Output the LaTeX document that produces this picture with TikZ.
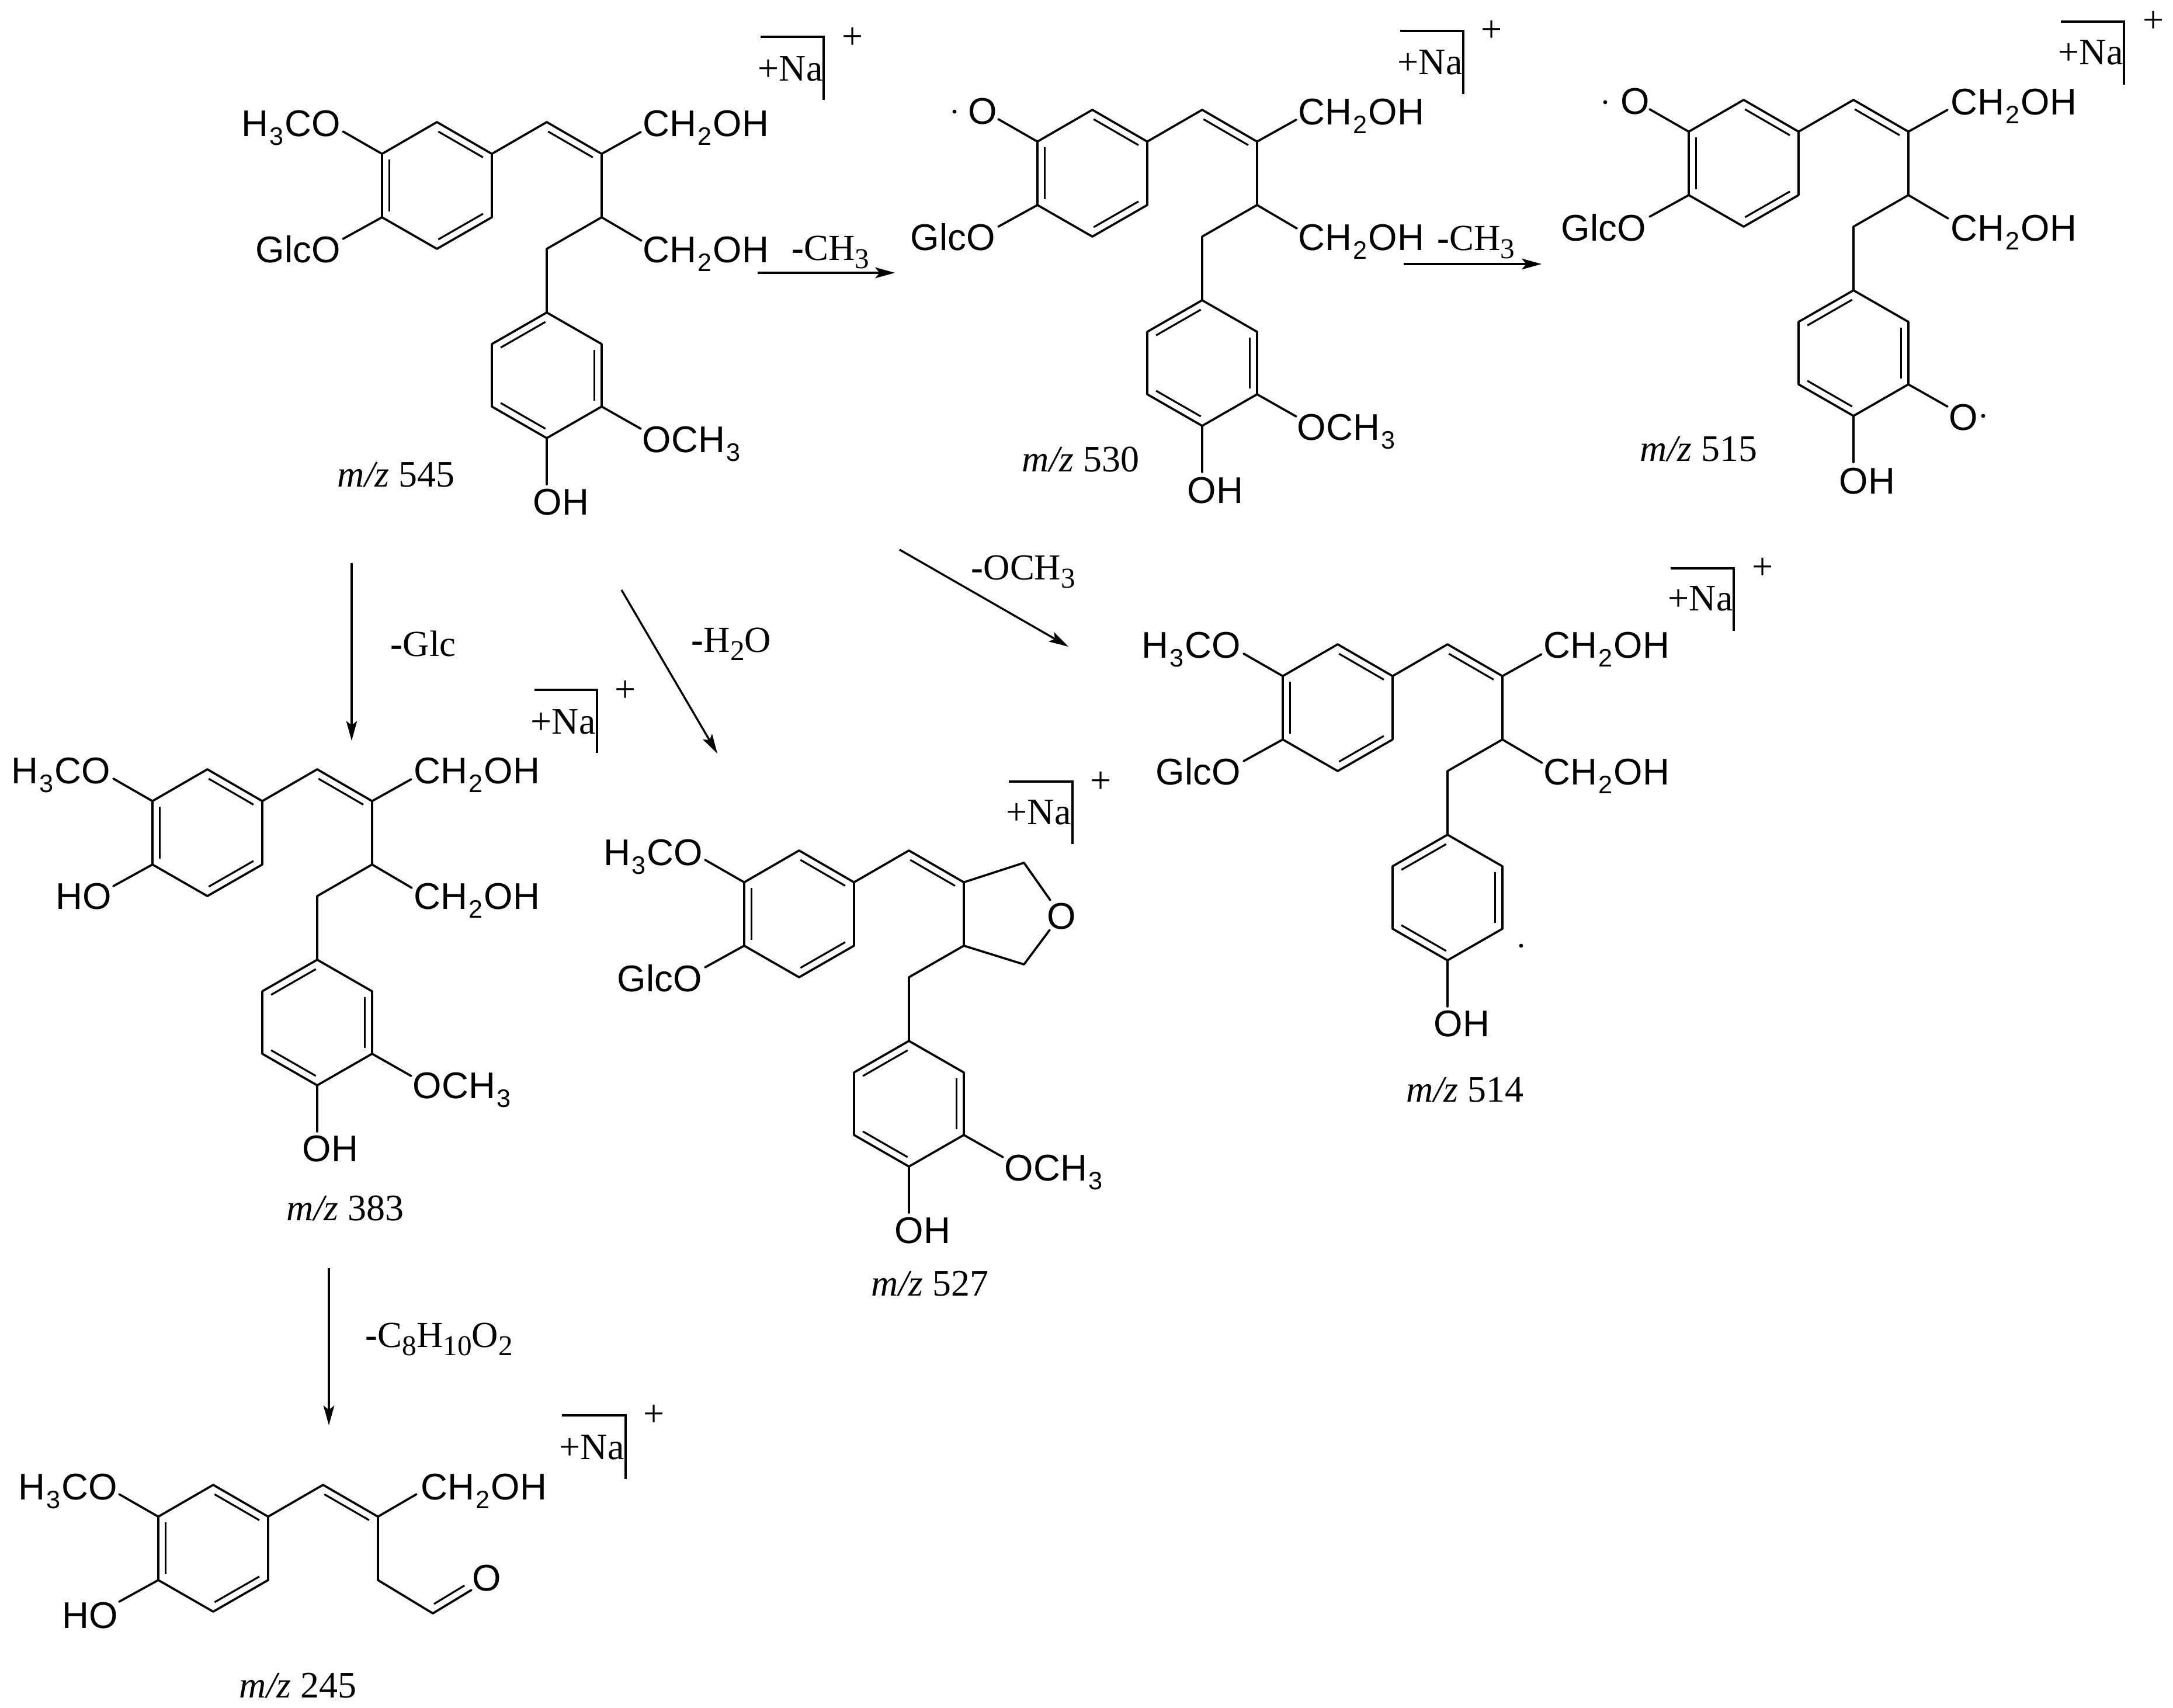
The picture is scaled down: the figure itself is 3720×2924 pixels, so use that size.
\documentclass[tikz,border=0pt]{standalone}
\usepackage{fontspec}
\setmainfont{Liberation Serif}
\newfontfamily\libsans{Liberation Sans}
\usetikzlibrary{calc,arrows.meta}
\tikzset{
  bond/.style={line width=0.92pt,line cap=round,line join=round,black},
  inner bond/.style={line width=0.8pt,line cap=butt,black},
  rxn/.style={line width=0.85pt,black,-{Stealth[length=8.4pt,width=4.6pt,inset=1.8pt]}},
  brk/.style={line width=0.95pt,black,line join=miter},
  atom/.style={font=\fontsize{15.9}{18}\libsans,inner sep=0pt,anchor=base west},
  serif/.style={font=\fontsize{16}{18}\selectfont,inner sep=0pt,anchor=base west},
  lab/.style={font=\fontsize{15.7}{18}\selectfont,inner sep=0pt,anchor=base west},
  chg/.style={font=\fontsize{16}{18}\selectfont,inner sep=0pt,anchor=center},
  radical/.style={fill=black}
}
\newcommand{\lsub}[1]{\kern.5pt\raisebox{-3.9pt}{\fontsize{10.8}{12}\selectfont #1}\kern.5pt}
\newcommand{\ssub}[1]{\raisebox{-3.7pt}{\fontsize{12.3}{14}\selectfont #1}}
\newcommand{\dbl}[2]{\draw[inner bond] ($(#1)!2.5pt!(#2)!3.2pt!90:(#2)$) -- ($(#2)!2.5pt!(#1)!-3.2pt!90:(#1)$);}
\newcommand{\topskel}[3]{%
  \begin{scope}[shift={(#2,#3)}]
    \coordinate (#1T) at (0,0);
    \coordinate (#1UR) at (94,54.4);
    \coordinate (#1LR) at (94,163);
    \coordinate (#1B) at (0,217);
    \coordinate (#1LL) at (-94,163);
    \coordinate (#1UL) at (-94,54.4);
    \coordinate (#1V) at (188,0);
    \coordinate (#1Ca) at (282,54.4);
    \coordinate (#1Cb) at (282,163);
    \coordinate (#1eO) at (-161,16);
    \coordinate (#1eP) at (-161,200);
  \end{scope}
  \draw[bond] (#1T)--(#1UR)--(#1LR)--(#1B)--(#1LL)--(#1UL)--cycle;
  \draw[bond] (#1UR)--(#1V)--(#1Ca)--(#1Cb);
  \draw[bond] (#1UL)--(#1eO);
  \draw[bond] (#1LL)--(#1eP);
  \dbl{#1UL}{#1LL}\dbl{#1B}{#1LR}\dbl{#1UR}{#1T}\dbl{#1Ca}{#1V}
}
\newcommand{\arms}[3]{%
  \begin{scope}[shift={(#2,#3)}]
    \coordinate (#1eA) at (349,17);
    \coordinate (#1eC) at (350,203);
  \end{scope}
  \draw[bond] (#1Ca)--(#1eA);
  \draw[bond] (#1Cb)--(#1eC);
}
\newcommand{\lowring}[3]{%
  \begin{scope}[shift={(#2,#3)}]
    \coordinate (#1c) at (188,217);
    \coordinate (#1t) at (188,326);
    \coordinate (#1ur) at (282,380);
    \coordinate (#1lr) at (282,487);
    \coordinate (#1b) at (188,541);
    \coordinate (#1ll) at (94,487);
    \coordinate (#1ul) at (94,380);
    \coordinate (#1eH) at (188,620);
    \coordinate (#1eM) at (349,525);
  \end{scope}
  \draw[bond] (#1Cb)--(#1c)--(#1t);
  \draw[bond] (#1t)--(#1ur)--(#1lr)--(#1b)--(#1ll)--(#1ul)--cycle;
  \draw[bond] (#1b)--(#1eH);
  \dbl{#1t}{#1ul}\dbl{#1ll}{#1b}\dbl{#1lr}{#1ur}
}
\newcommand{\nabox}[9]{%
  \coordinate (#1p) at (#2,#4);
  \coordinate (#1q) at (#3,#4);
  \coordinate (#1r) at (#3,#5);
  \draw[brk] (#1p)--(#1q)--(#1r);
  \node[serif] (#1na) at (#6,#7) {+Na};
  \node[chg] (#1pl) at (#8,#9) {+};
}
\begin{document}
\begin{tikzpicture}[x=0.25pt,y=-0.25pt]
\path[fill=white] (0,0) rectangle (3720,2924);
\useasboundingbox (0,0) rectangle (3720,2924);

\topskel{a}{748}{209}\arms{a}{748}{209}\lowring{a}{748}{209}
\draw[bond] (alr)--(aeM);
\node[atom] (a1) at (413,233) {H\lsub{3}CO};
\node[atom] (a2) at (437,449) {GlcO};
\node[atom] (a3) at (1100,233) {CH\lsub{2}OH};
\node[atom] (a4) at (1100,449) {CH\lsub{2}OH};
\node[atom] (a5) at (1099,774) {OCH\lsub{3}};
\node[atom] (a6) at (912,881) {OH};
\node[serif] (a7) at (577,833) {\textit{m/z} 545};
\nabox{a}{1302}{1410}{63}{171}{1297}{138}{1460}{65}

\topskel{b}{1870}{188}\arms{b}{1870}{188}\lowring{b}{1870}{188}
\draw[bond] (blr)--(beM);
\node[atom] (b1) at (1657,212) {O};
\fill[radical] (1634,191) circle[radius=0.85pt];
\node[atom] (b2) at (1558,428) {GlcO};
\node[atom] (b3) at (2222,213) {CH\lsub{2}OH};
\node[atom] (b4) at (2222,428) {CH\lsub{2}OH};
\node[atom] (b5) at (2220,753) {OCH\lsub{3}};
\node[atom] (b6) at (2032,861) {OH};
\node[serif] (b7) at (1749,807) {\textit{m/z} 530};
\nabox{b}{2397}{2505}{53}{161}{2392}{127}{2554}{53}

\topskel{c}{2985}{171}\arms{c}{2985}{171}\lowring{c}{2985}{171}
\draw[bond] (clr)--(ceM);
\node[atom] (c1) at (2774,195) {O};
\fill[radical] (2748,175) circle[radius=0.85pt];
\node[atom] (c2) at (2672,412) {GlcO};
\node[atom] (c3) at (3339,196) {CH\lsub{2}OH};
\node[atom] (c4) at (3339,412) {CH\lsub{2}OH};
\node[atom] (c5) at (3336,736) {O};
\fill[radical] (3395,712) circle[radius=0.85pt];
\node[atom] (c6) at (3148,845) {OH};
\node[serif] (c7) at (2807,789) {\textit{m/z} 515};
\nabox{c}{3528}{3636}{37}{145}{3523}{110}{3687}{37}

\topskel{d}{355}{1317}\arms{d}{355}{1317}\lowring{d}{355}{1317}
\draw[bond] (dlr)--(deM);
\node[atom] (d1) at (19,1341) {H\lsub{3}CO};
\node[atom] (d2) at (95,1556) {HO};
\node[atom] (d3) at (708,1341) {CH\lsub{2}OH};
\node[atom] (d4) at (708,1556) {CH\lsub{2}OH};
\node[atom] (d5) at (706,1880) {OCH\lsub{3}};
\node[atom] (d6) at (517,1988) {OH};
\node[serif] (d7) at (490,2089) {\textit{m/z} 383};
\nabox{d}{915}{1022}{1181}{1289}{908}{1256}{1071}{1183}

\topskel{e}{1368}{1456}\lowring{e}{1368}{1456}
\draw[bond] (elr)--(eeM);
\coordinate (ef) at (1753,1477);
\coordinate (eg) at (1753,1651);
\coordinate (eo1) at (1798,1541);
\coordinate (eo2) at (1797,1592);
\draw[bond] (eCa)--(ef)--(eo1);
\draw[bond] (eCb)--(eg)--(eo2);
\node[atom] (e1) at (1033,1481) {H\lsub{3}CO};
\node[atom] (e2) at (1056,1697) {GlcO};
\node[atom] (e3) at (1792,1590) {O};
\node[atom] (e5) at (1719,2021) {OCH\lsub{3}};
\node[atom] (e6) at (1531,2128) {OH};
\node[serif] (e7) at (1491,2218) {\textit{m/z} 527};
\nabox{e}{1727}{1836}{1338}{1445}{1722}{1411}{1885}{1339}

\topskel{f}{2290}{1103}\arms{f}{2290}{1103}\lowring{f}{2290}{1103}
\node[atom] (f1) at (1954,1126) {H\lsub{3}CO};
\node[atom] (f2) at (1978,1343) {GlcO};
\node[atom] (f3) at (2642,1126) {CH\lsub{2}OH};
\node[atom] (f4) at (2642,1343) {CH\lsub{2}OH};
\node[atom] (f6) at (2454,1774) {OH};
\fill[radical] (2604,1619) circle[radius=0.85pt];
\node[serif] (f7) at (2407,1886) {\textit{m/z} 514};
\nabox{f}{2860}{2968}{973}{1080}{2855}{1045}{3018}{973}

\topskel{g}{365}{2542}
\coordinate (geA) at (713,2558);
\coordinate (gc) at (741,2762);
\coordinate (geK) at (807,2722);
\draw[bond] (gCa)--(geA);
\draw[bond] (gCb)--(gc)--(geK);
\draw[inner bond] ($(gc)!2.5pt!(geK)!3.2pt!90:(geK)$) -- ($(geK)!1.5pt!(gc)!-3.2pt!90:(gc)$);
\node[atom] (g1) at (31,2567) {H\lsub{3}CO};
\node[atom] (g2) at (106,2787) {HO};
\node[atom] (g3) at (720,2567) {CH\lsub{2}OH};
\node[atom] (g4) at (808,2723) {O};
\node[serif] (g7) at (409,2906) {\textit{m/z} 245};
\nabox{g}{962}{1071}{2423}{2532}{957}{2498}{1120}{2423}

\coordinate (r1s) at (1297,467); \coordinate (r1e) at (1532,467);
\draw[rxn] (r1s)--(r1e);
\node[lab] (l1) at (1355,445) {\textbf{-}CH\ssub{3}};
\coordinate (r2s) at (2403,452); \coordinate (r2e) at (2639,452);
\draw[rxn] (r2s)--(r2e);
\node[lab] (l2) at (2460,428) {\textbf{-}CH\ssub{3}};
\coordinate (r3s) at (602,964); \coordinate (r3e) at (602,1268);
\draw[rxn] (r3s)--(r3e);
\node[lab] (l3) at (668,1123) {\textbf{-}Glc};
\coordinate (r4s) at (1064,1010); \coordinate (r4e) at (1228,1290);
\draw[rxn] (r4s)--(r4e);
\node[lab] (l4) at (1183,1116) {\textbf{-}H\ssub{2}O};
\coordinate (r5s) at (1540,941); \coordinate (r5e) at (1829,1107);
\draw[rxn] (r5s)--(r5e);
\node[lab] (l5) at (1662,992) {\textbf{-}OCH\ssub{3}};
\coordinate (r6s) at (563,2171); \coordinate (r6e) at (563,2440);
\draw[rxn] (r6s)--(r6e);
\node[lab] (l6) at (625,2306) {\textbf{-}C\ssub{8}H\ssub{10}O\ssub{2}};
\end{tikzpicture}
\end{document}
